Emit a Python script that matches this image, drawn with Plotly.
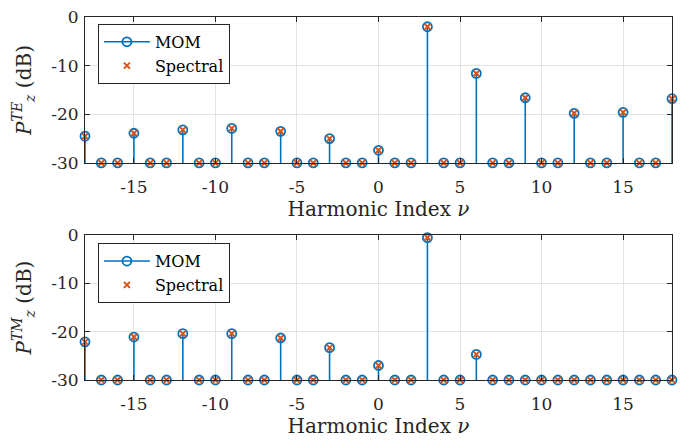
import plotly.graph_objects as go
from plotly.subplots import make_subplots

harmonics = list(range(-18, 19))

te_db = [-24.5, -30, -30, -23.9, -30, -30, -23.2, -30, -30, -22.9, -30, -30,
         -23.5, -30, -30, -25.0, -30, -30, -27.4, -30, -30, -2.0, -30, -30,
         -11.6, -30, -30, -16.6, -30, -30, -19.8, -30, -30, -19.6, -30, -30, -16.8]
tm_db = [-22.1, -30, -30, -21.1, -30, -30, -20.4, -30, -30, -20.4, -30, -30,
         -21.3, -30, -30, -23.3, -30, -30, -27.0, -30, -30, -0.5, -30, -30,
         -24.7, -30, -30, -30, -30, -30, -30, -30, -30, -30, -30, -30, -30]

x_ticks = [-15, -10, -5, 0, 5, 10, 15]
y_ticks = [0, -10, -20, -30]
floor_db = -30

BLUE = "#0072BD"
ORANGE = "#D95319"
FONT = "DejaVu Serif, Liberation Serif, serif"

fig = make_subplots(rows=2, cols=1, vertical_spacing=0.2)


def add_panel(vals, row, legend):
    sx, sy = [], []
    for h, v in zip(harmonics, vals):
        sx += [h, h, None]
        sy += [floor_db, v, None]
    fig.add_trace(go.Scatter(x=sx, y=sy, mode="lines", line=dict(color=BLUE, width=1.6),
                             showlegend=False, hoverinfo="skip", cliponaxis=False), row=row, col=1)
    fig.add_trace(go.Scatter(x=harmonics, y=vals, mode="markers",
                             marker=dict(symbol="circle-open", size=9, color=BLUE,
                                         line=dict(width=1.8, color=BLUE)),
                             showlegend=False, cliponaxis=False), row=row, col=1)
    fig.add_trace(go.Scatter(x=[None], y=[None], mode="lines+markers", name="MOM",
                             line=dict(color=BLUE, width=1.6),
                             marker=dict(symbol="circle-open", size=9, color=BLUE,
                                         line=dict(width=1.8, color=BLUE)),
                             legend=legend), row=row, col=1)
    fig.add_trace(go.Scatter(x=harmonics, y=vals, mode="markers", name="Spectral",
                             marker=dict(symbol="x-thin-open", size=6, color=ORANGE,
                                         line=dict(width=2, color=ORANGE)),
                             legend=legend, cliponaxis=False), row=row, col=1)


add_panel(te_db, 1, "legend")
add_panel(tm_db, 2, "legend2")

axis_common = dict(showline=True, mirror="allticks", linecolor="#262626", linewidth=1,
                   ticks="inside", ticklen=5, tickcolor="#262626", automargin=False,
                   ticklabeloverflow="allow",
                   showgrid=True, gridcolor="#e3e3e3", gridwidth=1, zeroline=False,
                   tickfont=dict(family=FONT, size=17, color="#262626"))

for r in (1, 2):
    fig.update_xaxes(range=[-18, 18], tickvals=x_ticks, ticktext=[str(t) for t in x_ticks],
                     ticklabelstandoff=9,
                     title=dict(text="Harmonic Index <i>ν</i>", font=dict(family=FONT, size=20, color="#262626"),
                                standoff=4),
                     row=r, col=1, **axis_common)
    fig.update_yaxes(range=[-30, 0], tickvals=y_ticks, ticktext=[str(t) for t in y_ticks],
                     ticklabelstandoff=2,
                     row=r, col=1, **axis_common)

fig.update_yaxes(title=dict(text="<i>P</i><sup><i>TE</i></sup><sub><i>z</i></sub> (dB)",
                            font=dict(family=FONT, size=20, color="#262626"), standoff=14), row=1, col=1)
fig.update_yaxes(title=dict(text="<i>P</i><sup><i>TM</i></sup><sub><i>z</i></sub> (dB)",
                            font=dict(family=FONT, size=20, color="#262626"), standoff=14), row=2, col=1)

fig.update_layout(xaxis=dict(domain=[0, 1]), yaxis=dict(domain=[0.598, 1.0]),
                  xaxis2=dict(domain=[0, 1]), yaxis2=dict(domain=[0.0, 0.399]))

legend_common = dict(bgcolor="white", bordercolor="#262626", borderwidth=1,
                     font=dict(family=FONT, size=16, color="black"),
                     xanchor="left", yanchor="top", tracegroupgap=0, itemwidth=46)
fig.update_layout(
    width=683, height=433,
    margin=dict(l=77, r=19, t=9, b=61, autoexpand=False),
    paper_bgcolor="white", plot_bgcolor="white",
    legend=dict(x=0.022, y=0.981, **legend_common),
    legend2=dict(x=0.022, y=0.377, **legend_common),
    showlegend=True,
)

fig.write_html("out.html")
